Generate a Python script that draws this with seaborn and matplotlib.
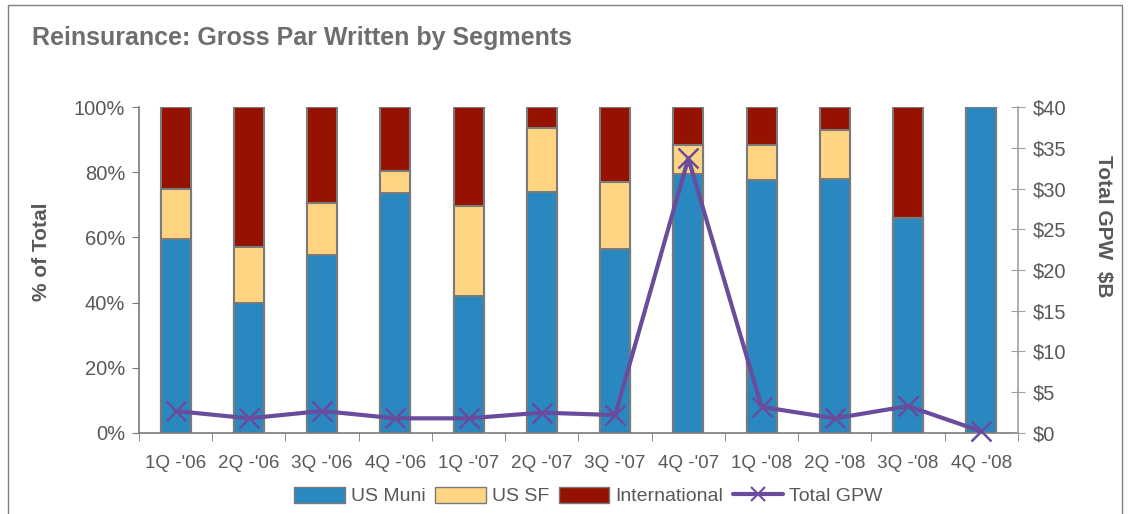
import seaborn as sns
import matplotlib.pyplot as plt
import matplotlib.patches as mpatches
from matplotlib.lines import Line2D
from matplotlib.ticker import FuncFormatter
import numpy as np
import pandas as pd

# Quarter labels
quarters = ["1Q -'06", "2Q -'06", "3Q -'06", "4Q -'06", "1Q -'07", "2Q -'07",
            "3Q -'07", "4Q -'07", "1Q -'08", "2Q -'08", "3Q -'08", "4Q -'08"]

# Segment shares (% of total)
us_muni = [59.5, 40, 54.5, 73.5, 42, 74, 56.5, 79.5, 77.5, 78, 66, 100]
us_sf = [15.5, 17, 16, 7, 27.5, 19.5, 20.5, 9, 11, 15, 0, 0]
international = [25, 43, 29.5, 19.5, 30.5, 6.5, 23, 11.5, 11.5, 7, 34, 0]

# Total gross par written ($B)
total_gpw = [2.7, 1.8, 2.7, 1.8, 1.8, 2.5, 2.2, 33.7, 3.2, 1.8, 3.3, 0.2]

c_muni = '#2a88c0'
c_sf = '#ffd583'
c_intl = '#951200'
c_line = '#6a4c9c'
c_edge = '#7a7a7a'
c_text = '#595959'

df = pd.DataFrame({
    'Quarter': quarters,
    'muni': us_muni,
    'muni_sf': np.array(us_muni) + np.array(us_sf),
    'all': np.array(us_muni) + np.array(us_sf) + np.array(international),
})

sns.set_style("white")
plt.rcParams['font.family'] = ['Liberation Sans', 'DejaVu Sans']

fig = plt.figure(figsize=(11.36, 5.14), dpi=100)
ax = fig.add_axes([0.1223, 0.1576, 0.7738, 0.6342])

# Stacked bars drawn as cumulative layers
for col, color in [('all', c_intl), ('muni_sf', c_sf), ('muni', c_muni)]:
    sns.barplot(data=df, x='Quarter', y=col, color=color, saturation=1,
                width=0.41, edgecolor=c_edge, linewidth=1.5, ax=ax)

ax.set_xlim(-0.5, len(quarters) - 0.5)
ax.set_ylim(0, 100)
ax.set_yticks(np.arange(0, 101, 20))
ax.yaxis.set_major_formatter(FuncFormatter(lambda v, p: f'{v:.0f}%'))
ax.set_xlabel('')
ax.set_ylabel('% of Total', fontsize=15, fontweight='bold', color=c_text, va='center')
ax.yaxis.set_label_coords(-0.111, 0.555)
ax.set_xticks(np.arange(-0.5, len(quarters), 1), minor=True)
ax.tick_params(axis='x', which='major', length=0, labelsize=13.6, colors=c_text, pad=16)
ax.tick_params(axis='x', which='minor', length=6, color=c_edge, direction='out', bottom=True)
ax.tick_params(axis='y', length=5, color=c_edge, direction='out', left=True,
               labelsize=14.5, colors=c_text, pad=5)
for s in ['top', 'right']:
    ax.spines[s].set_visible(False)
for s in ['left', 'bottom']:
    ax.spines[s].set_color(c_edge)
    ax.spines[s].set_linewidth(1.2)

# Total GPW on secondary axis
ax2 = ax.twinx()
sns.lineplot(x=np.arange(len(quarters)), y=total_gpw, color=c_line, linewidth=3,
             marker='x', markersize=15, markeredgewidth=1.8, markeredgecolor=c_line,
             clip_on=False, ax=ax2)
ax2.set_ylim(0, 40)
ax2.set_yticks(np.arange(0, 41, 5))
ax2.yaxis.set_major_formatter(FuncFormatter(lambda v, p: f'${v:.0f}'))
ax2.tick_params(axis='y', length=10, color='#a0a0a0', direction='inout', right=True,
                labelsize=14.5, colors=c_text, pad=6)
ax2.set_ylabel('Total GPW  $B', fontsize=15, fontweight='bold', color=c_text,
               rotation=270, va='center')
ax2.yaxis.set_label_coords(1.097, 0.635)
for s in ['top', 'left', 'bottom']:
    ax2.spines[s].set_visible(False)
ax2.spines['right'].set_color('#a0a0a0')
ax2.spines['right'].set_linewidth(1.2)

fig.text(0.028, 0.926, 'Reinsurance: Gross Par Written by Segments', fontsize=18,
         fontweight='bold', color='#6e6e6e', va='center', ha='left')

handles = [
    mpatches.Patch(facecolor=c_muni, edgecolor=c_edge, label='US Muni'),
    mpatches.Patch(facecolor=c_sf, edgecolor=c_edge, label='US SF'),
    mpatches.Patch(facecolor=c_intl, edgecolor=c_edge, label='International'),
    Line2D([0], [0], color=c_line, lw=3, marker='x', markersize=10,
           markeredgewidth=1.5, label='Total GPW'),
]
fig.legend(handles=handles, loc='center', bbox_to_anchor=(0.518, 0.035), ncol=4,
           frameon=False, fontsize=14, handlelength=2.6, handleheight=0.9,
           columnspacing=0.5, handletextpad=0.3, labelcolor=c_text)

fig.patches.append(mpatches.Rectangle((0.007, -0.01), 0.981, 1.0, transform=fig.transFigure,
                                      fill=False, edgecolor='#808080', lw=1))

fig.savefig('out.png', dpi=100)
